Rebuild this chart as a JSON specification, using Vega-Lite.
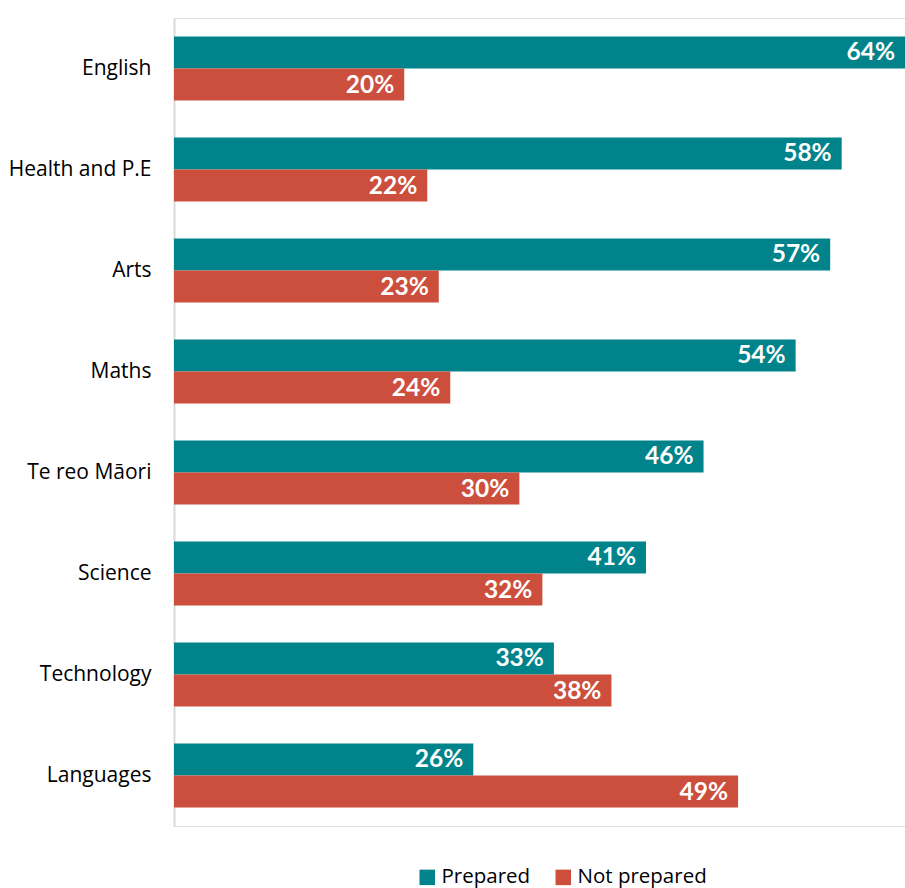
{
  "$schema": "https://vega.github.io/schema/vega-lite/v6.json",
  "autosize": {"type": "none"},
  "width": 731,
  "height": 808,
  "padding": {"left": 174, "top": 18, "right": 0, "bottom": 62},
  "background": "white",
  "data": {
    "values": [
      {"subject": "English", "group": "Prepared", "value": 0.64},
      {"subject": "English", "group": "Not prepared", "value": 0.20},
      {"subject": "Health and P.E", "group": "Prepared", "value": 0.58},
      {"subject": "Health and P.E", "group": "Not prepared", "value": 0.22},
      {"subject": "Arts", "group": "Prepared", "value": 0.57},
      {"subject": "Arts", "group": "Not prepared", "value": 0.23},
      {"subject": "Maths", "group": "Prepared", "value": 0.54},
      {"subject": "Maths", "group": "Not prepared", "value": 0.24},
      {"subject": "Te reo Māori", "group": "Prepared", "value": 0.46},
      {"subject": "Te reo Māori", "group": "Not prepared", "value": 0.30},
      {"subject": "Science", "group": "Prepared", "value": 0.41},
      {"subject": "Science", "group": "Not prepared", "value": 0.32},
      {"subject": "Technology", "group": "Prepared", "value": 0.33},
      {"subject": "Technology", "group": "Not prepared", "value": 0.38},
      {"subject": "Languages", "group": "Prepared", "value": 0.26},
      {"subject": "Languages", "group": "Not prepared", "value": 0.49}
    ]
  },
  "encoding": {
    "y": {
      "field": "subject",
      "type": "nominal",
      "sort": null,
      "scale": {"paddingInner": 0.366, "paddingOuter": 0.183},
      "axis": {
        "title": null,
        "ticks": false,
        "labelFont": "Open Sans",
        "labelFontSize": 21,
        "labelColor": "#000000",
        "labelPadding": 23,
        "domainColor": "#D9D9D9",
        "domainWidth": 2,
        "grid": false
      }
    },
    "yOffset": {
      "field": "group",
      "type": "nominal",
      "sort": ["Prepared", "Not prepared"],
      "scale": {"paddingInner": 0, "paddingOuter": 0}
    },
    "x": {
      "field": "value",
      "type": "quantitative",
      "scale": {"domain": [0, 0.635], "nice": false, "zero": true},
      "axis": null
    }
  },
  "layer": [
    {
      "mark": {"type": "bar", "clip": true},
      "encoding": {
        "color": {
          "field": "group",
          "type": "nominal",
          "sort": ["Prepared", "Not prepared"],
          "scale": {"domain": ["Prepared", "Not prepared"], "range": ["#00838A", "#CC4E3C"]},
          "legend": {
            "title": null,
            "orient": "none",
            "direction": "horizontal",
            "legendX": 243,
            "legendY": 849,
            "symbolType": "square",
            "symbolSize": 240,
            "symbolStrokeWidth": 0,
            "labelFont": "Open Sans",
            "labelFontSize": 20.5,
            "labelColor": "#000000",
            "labelOffset": 4,
            "columnPadding": 22
          }
        }
      }
    },
    {
      "mark": {"type": "text", "align": "right", "baseline": "middle", "dx": -10, "dy": 1, "font": "Lato", "fontSize": 24.5, "fontWeight": "bold", "color": "white"},
      "encoding": {
        "text": {"field": "value", "type": "quantitative", "format": ".0%"},
        "x": {"field": "value", "type": "quantitative", "scale": {"domain": [0, 0.635], "nice": false, "clamp": true}}
      }
    }
  ]
}
